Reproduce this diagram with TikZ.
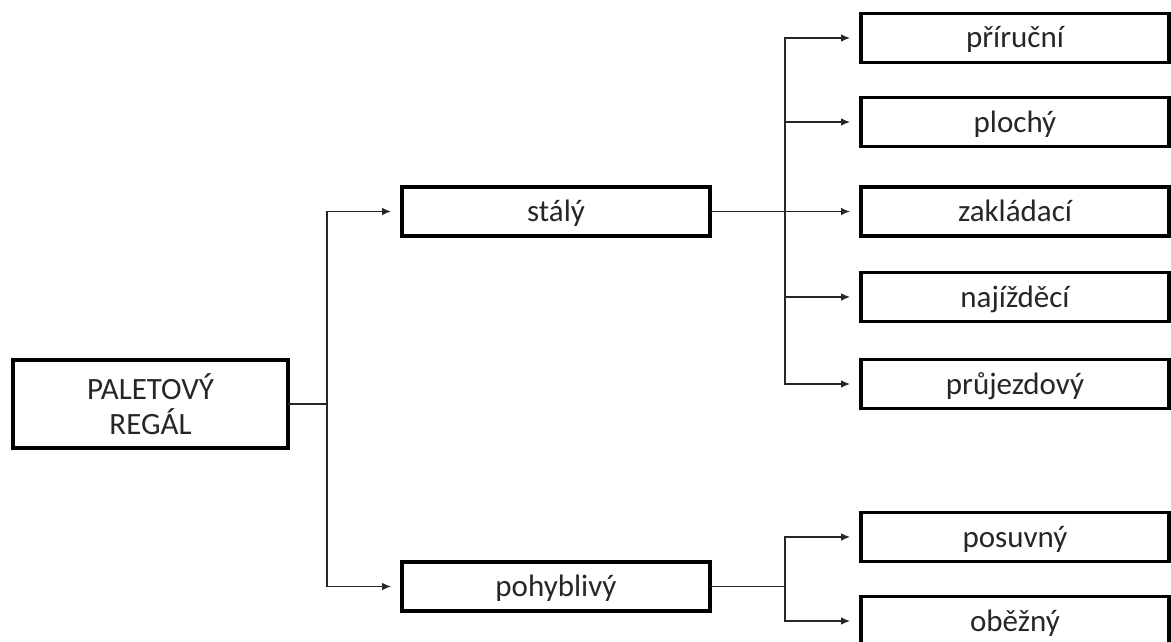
\documentclass[tikz,border=0pt]{standalone}
\usepackage{fontspec}
\setmainfont{Carlito}
\usetikzlibrary{arrows.meta}
\begin{document}
\begin{tikzpicture}[x=1pt,y=-1pt,
  box/.style={draw=black,line width=3.6pt,rectangle,inner sep=0pt,outer sep=0pt,
    minimum width=308pt,minimum height=49pt,
    font=\fontsize{31}{35}\selectfont,text=black!85},
  one/.style={text height=24pt,text depth=4pt},
  conn/.style={draw=black!85,line width=1.1pt},
  arr/.style={conn,-{Latex[length=9pt,width=7.5pt]},shorten >=11pt}]
\useasboundingbox (0,0) rectangle (1171,642);
\node[box,minimum width=275pt,minimum height=88pt,align=center] (root) at (150.5,404) {PALETOVÝ\\REGÁL};
\node[box,one] (stal) at (556,211.5) {stálý};
\node[box,one] (pohy) at (556,586.5) {pohyblivý};
\node[box,one] (prir) at (1015,38) {příruční};
\node[box,one] (ploc) at (1015,122) {plochý};
\node[box,one] (zakl) at (1015,211.5) {zakládací};
\node[box,one] (naji) at (1015,297) {najížděcí};
\node[box,one] (pruj) at (1015,384) {průjezdový};
\node[box,one] (posu) at (1015,537) {posuvný};
\node[box,one] (obez) at (1015,621) {oběžný};
\coordinate (b1) at (327,404);
\coordinate (b2) at (785,211.5);
\coordinate (b3) at (785,586.5);
\draw[conn] (root.east) -- (b1);
\draw[arr] (b1) |- (stal.west);
\draw[arr] (b1) |- (pohy.west);
\draw[conn] (stal.east) -- (b2);
\draw[arr] (b2) |- (prir.west);
\draw[arr] (b2) |- (ploc.west);
\draw[arr] (b2) -- (zakl.west);
\draw[arr] (b2) |- (naji.west);
\draw[arr] (b2) |- (pruj.west);
\draw[conn] (pohy.east) -- (b3);
\draw[arr] (b3) |- (posu.west);
\draw[arr] (b3) |- (obez.west);
\end{tikzpicture}
\end{document}
